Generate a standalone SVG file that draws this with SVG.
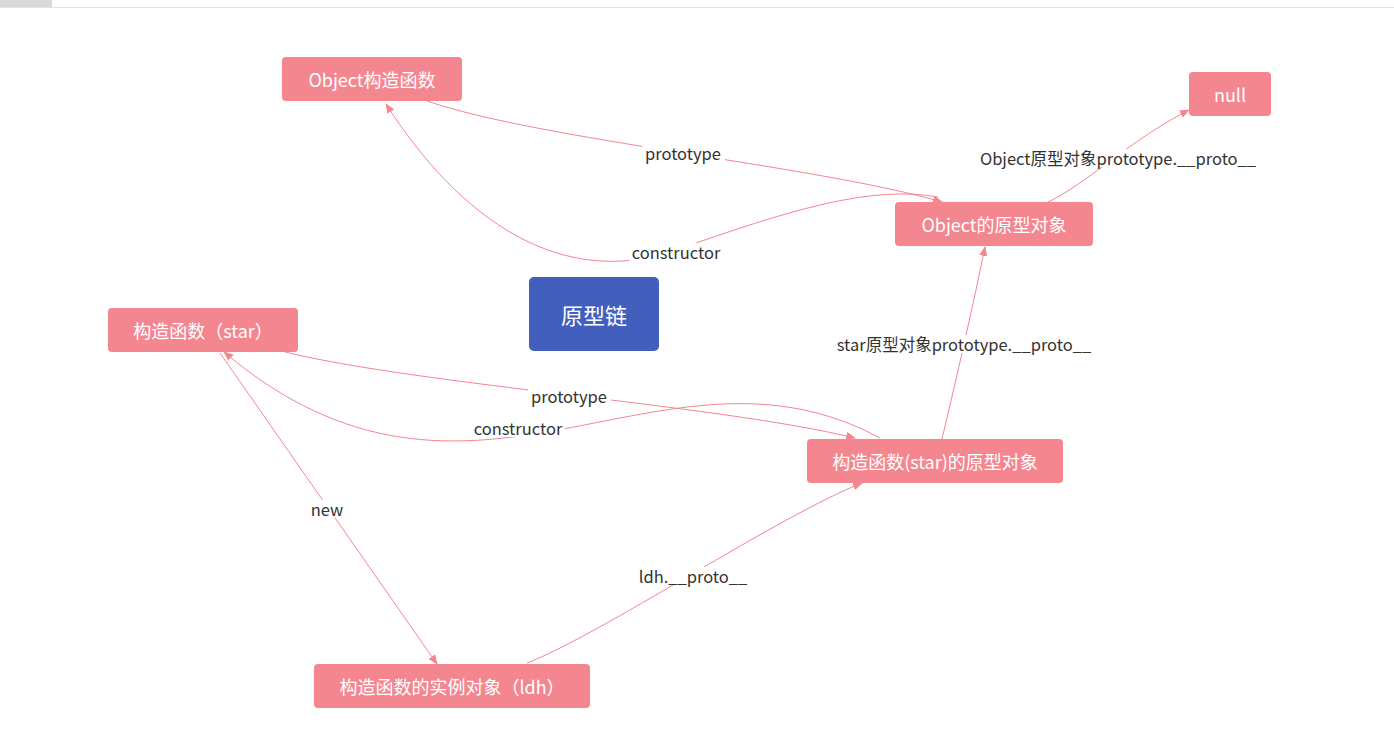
<svg xmlns="http://www.w3.org/2000/svg" width="1394" height="738" viewBox="0 0 1394 738">
<defs>
<style>
.node rect{fill:#f3868f;}
.node text{fill:#ffffff;font-family:"Noto Sans CJK SC",sans-serif;font-size:18px;text-anchor:middle;dominant-baseline:central;}
.hub rect{fill:#425fbe;}
.hub text{font-size:22px;}
.edge{fill:none;stroke:#f3868f;stroke-width:1;marker-end:url(#arrow);}
.lbl rect{fill:#ffffff;}
.lbl text{fill:#333333;font-family:"Noto Sans CJK SC",sans-serif;font-size:16.5px;text-anchor:middle;dominant-baseline:central;}
</style>
<marker id="arrow" viewBox="0 0 10 8" refX="9" refY="4" markerWidth="10" markerHeight="8" markerUnits="userSpaceOnUse" orient="auto">
<path d="M0,0 L10,4 L0,8 z" fill="#f3868f"/>
</marker>
</defs>
<rect x="0" y="0" width="1394" height="738" fill="#ffffff"/>
<rect x="0" y="0" width="52" height="7" fill="#d9d9d9"/>
<rect x="0" y="7" width="1394" height="1" fill="#e3e3e3"/>

<g id="connectors">
<path id="e-obj-prototype" class="edge" d="M427,101 C540,140 820,166 942,202"/>
<path id="e-obj-constructor" class="edge" d="M938,197 C870,185 790,210 676,250 C562,290 460,220 386,104"/>
<path id="e-objproto-null" class="edge" d="M1048,202 C1085,185 1130,140 1189,110"/>
<path id="e-starproto-objproto" class="edge" d="M942,439 Q968,330 985,247"/>
<path id="e-star-prototype" class="edge" d="M285,352 C420,385 720,405 855,438"/>
<path id="e-star-constructor" class="edge" d="M880,438 C661,320 471,561 224,352"/>
<path id="e-new" class="edge" d="M220,353 L437,664"/>
<path id="e-ldh-proto" class="edge" d="M527,663 C600,635 780,515 862,483"/>

<g class="lbl">
<rect x="642" y="144" width="83" height="18"/><text x="683" y="152.5">prototype</text>
<rect x="629" y="243" width="94" height="18"/><text x="676" y="251.5">constructor</text>
<rect x="975" y="149" width="286" height="18"/><text x="1118" y="157.5">Object原型对象prototype.__proto__</text>
<rect x="834" y="335" width="261" height="18"/><text x="964" y="343.5">star原型对象prototype.__proto__</text>
<rect x="528" y="387" width="83" height="18"/><text x="569" y="395.5">prototype</text>
<rect x="471" y="419" width="94" height="18"/><text x="518" y="427.5">constructor</text>
<rect x="309" y="500" width="36" height="18"/><text x="327" y="508.5">new</text>
<rect x="639" y="567" width="109" height="18"/><text x="693" y="575.5">ldh.__proto__</text>
</g>
</g>

<g id="n-object-ctor" class="node"><rect x="282" y="57" width="180" height="44" rx="4"/><text x="372" y="78.5">Object构造函数</text></g>
<g id="n-null" class="node"><rect x="1189" y="72" width="82" height="44" rx="4"/><text x="1230" y="93.5">null</text></g>
<g id="n-object-proto" class="node"><rect x="895" y="202" width="198" height="44" rx="4"/><text x="994" y="223.5">Object的原型对象</text></g>
<g id="n-chain" class="node hub"><rect x="529" y="277" width="130" height="74" rx="5"/><text x="594" y="313.5">原型链</text></g>
<g id="n-star-ctor" class="node"><rect x="108" y="308" width="190" height="44" rx="4"/><text x="203" y="329.5">构造函数（star）</text></g>
<g id="n-star-proto" class="node"><rect x="807" y="439" width="256" height="44" rx="4"/><text x="935" y="460.5">构造函数(star)的原型对象</text></g>
<g id="n-ldh" class="node"><rect x="314" y="664" width="276" height="44" rx="4"/><text x="452" y="685.5">构造函数的实例对象（ldh）</text></g>
</svg>
